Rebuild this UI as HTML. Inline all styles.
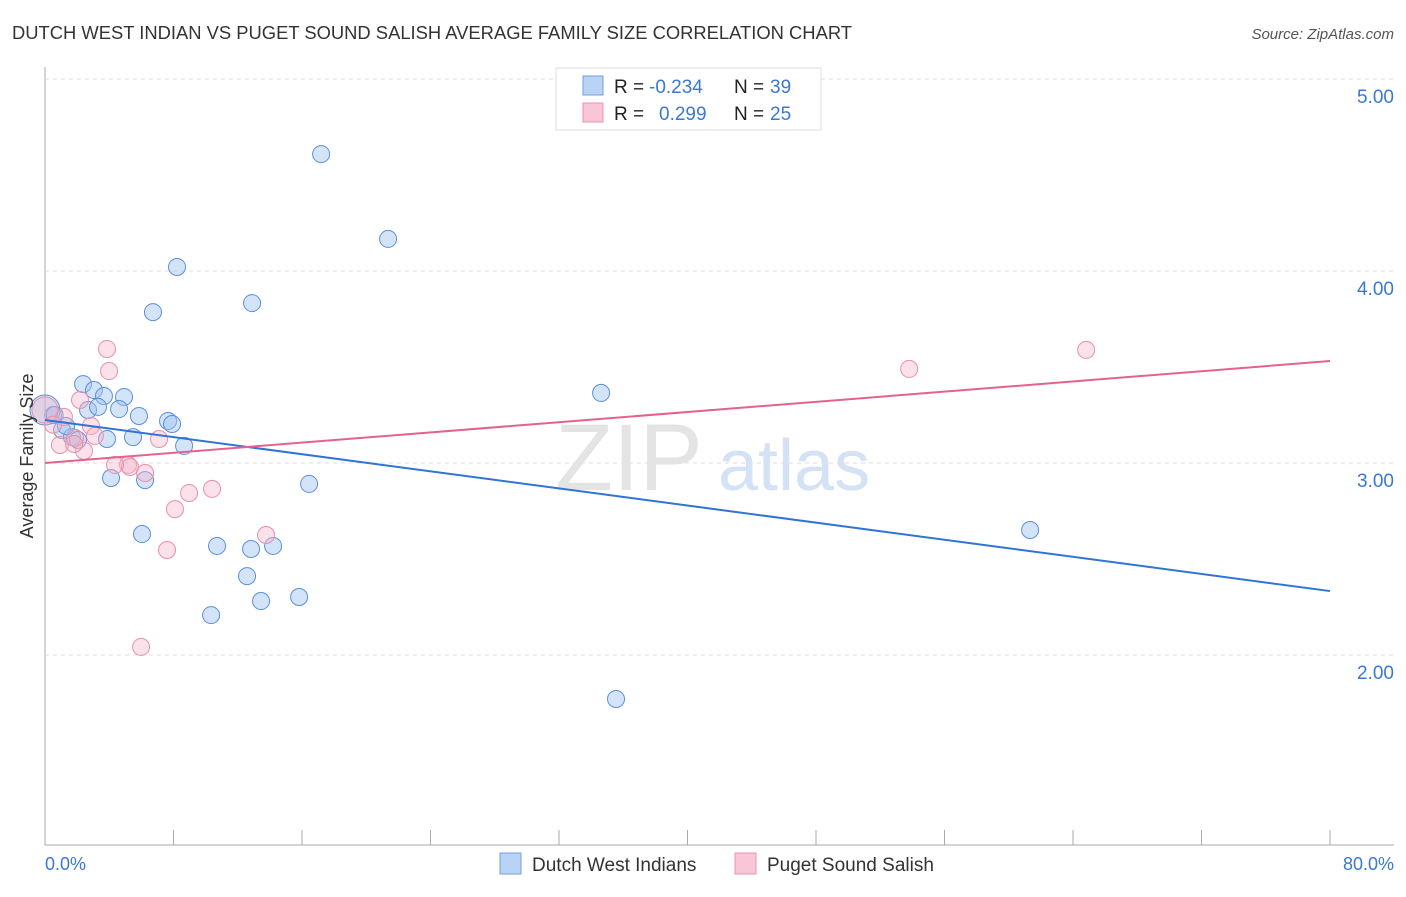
<!DOCTYPE html>
<html><head><meta charset="utf-8"><style>
body{margin:0;background:#fff;font-family:"Liberation Sans",sans-serif;}
svg text{font-family:"Liberation Sans",sans-serif;}
</style></head><body>
<svg id="chart" width="1406" height="892">
<text x="12" y="39" font-size="18" fill="#333" textLength="840" lengthAdjust="spacingAndGlyphs">DUTCH WEST INDIAN VS PUGET SOUND SALISH AVERAGE FAMILY SIZE CORRELATION CHART</text>
<text x="1394" y="39" font-size="15" fill="#555" text-anchor="end" font-style="italic">Source: ZipAtlas.com</text>
<g id="grid"></g>
<text x="555" y="490" font-size="95" fill="#e4e4e4" font-family="Liberation Serif">ZIP</text>
<text x="718" y="490" font-size="72" fill="#d3e2f5">atlas</text>
<g id="pts"></g>
<g id="lines"></g>
<text x="33" y="456" font-size="18" fill="#333" text-anchor="middle" transform="rotate(-90 33 456)">Average Family Size</text>
<text x="45" y="870" font-size="18" fill="#3a78d4">0.0%</text>
<text x="1394" y="870" font-size="18" fill="#3a78d4" text-anchor="end">80.0%</text>
<g>
<rect x="556" y="68" width="265" height="62" fill="#fff" stroke="#ddd"/>
<rect x="583" y="76" width="20" height="19" fill="#b9d3f5" stroke="#6e9fe0"/>
<rect x="583" y="103" width="20" height="19" fill="#f8c6d6" stroke="#eb94b0"/>
<text x="614" y="93" font-size="19" fill="#222">R =</text><text x="649" y="93" font-size="19" fill="#3a78d4">-0.234</text>
<text x="734" y="93" font-size="19" fill="#222">N =</text><text x="770" y="93" font-size="19" fill="#3a78d4">39</text>
<text x="614" y="120" font-size="19" fill="#222">R =</text><text x="659" y="120" font-size="19" fill="#3a78d4">0.299</text>
<text x="734" y="120" font-size="19" fill="#222">N =</text><text x="770" y="120" font-size="19" fill="#3a78d4">25</text>
</g>
<g>
<rect x="500" y="853" width="21" height="21" fill="#b9d3f5" stroke="#6e9fe0"/>
<text x="532" y="871" font-size="19" fill="#333">Dutch West Indians</text>
<rect x="735" y="853" width="21" height="21" fill="#f8c6d6" stroke="#eb94b0"/>
<text x="767" y="871" font-size="19" fill="#333">Puget Sound Salish</text>
</g>
</svg>
<script>
const yTicks=[2,3,4,5];
const yTickLabels=["2.00","3.00","4.00","5.00"];
const blueX=[2.37,3.05,3.67,4.92,2.68,3.30,4.61,5.85,7.66,7.91,3.86,5.48,8.66,4.11,6.23,16.44,6.04,10.71,12.83,14.20,12.58,13.45,15.82,10.34,17.19,21.36,8.22,12.89,6.72,34.62,61.33,35.55,0.50,1.06,1.68,2.05,1.31,0.0,0.6];
const blueY=[3.411,3.380,3.349,3.344,3.276,3.292,3.281,3.245,3.219,3.203,3.125,3.135,3.089,2.922,2.911,2.891,2.630,2.568,2.552,2.568,2.411,2.281,2.302,2.208,4.609,4.167,4.021,3.833,3.786,3.365,2.651,1.771,3.25,3.172,3.135,3.12,3.193,3.276,3.25];
const pinkX=[3.86,3.99,2.18,2.86,3.11,0.93,1.87,2.43,7.10,5.17,5.29,6.23,4.36,8.97,10.40,8.09,7.60,13.76,5.98,53.80,64.82,1.18,1.81,0.0,0.5];
const pinkY=[3.594,3.479,3.328,3.193,3.141,3.094,3.13,3.063,3.125,2.99,2.979,2.948,2.99,2.844,2.865,2.76,2.547,2.625,2.042,3.49,3.589,3.24,3.099,3.276,3.2];
const blueTrend=[3.224,2.333];
const pinkTrend=[3.0,3.531];
const xr=[0,80];
const NS='http://www.w3.org/2000/svg';
const X=v=>45+(v-xr[0])/(xr[1]-xr[0])*1285;
const Y=v=>79+(5-v)*192;
function mk(t,a,p){const e=document.createElementNS(NS,t);for(const k in a)e.setAttribute(k,a[k]);p.appendChild(e);return e;}
const grid=document.getElementById('grid');
const ax=mk('line',{x1:45,y1:67,x2:45,y2:845,stroke:'#aaa'},grid);


const bx=mk('line',{x1:45,y1:845,x2:1394,y2:845,stroke:'#aaa'},grid);


yTicks.forEach((t,i)=>{
 const g=mk('line',{x1:45,y1:Y(t),x2:1394,y2:Y(t),stroke:'#ddd','stroke-dasharray':'4,4'},grid);
 
 
 const l=mk('text',{x:1394,y:Y(t)+24,'font-size':19,fill:'#3a78d4','text-anchor':'end'},grid);
 l.textContent=yTickLabels[i];
 
 
});
for(let i=0;i<=10;i++){
 const t=mk('line',{x1:X(i*8),y1:830,x2:X(i*8),y2:845,stroke:'#aaa'},grid);
 
 
}
const pts=document.getElementById('pts');
blueX.forEach((x,i)=>{
 const c=mk('circle',{cx:X(x),cy:Y(blueY[i]),r:(i===37?15:8.5),fill:'rgba(160,196,240,0.45)',stroke:'#5b8fd9','stroke-width':1},pts);
 
 
});
pinkX.forEach((x,i)=>{
 const c=mk('circle',{cx:X(x),cy:Y(pinkY[i]),r:(i===23?13:8.5),fill:'rgba(245,180,200,0.4)',stroke:'#e890aa','stroke-width':1},pts);
 
 
});
const lines=document.getElementById('lines');
const bl=mk('line',{x1:X(0),y1:Y(blueTrend[0]),x2:X(80),y2:Y(blueTrend[1]),stroke:'#2f74d6','stroke-width':2},lines);


const pl=mk('line',{x1:X(0),y1:Y(pinkTrend[0]),x2:X(80),y2:Y(pinkTrend[1]),stroke:'#e4628f','stroke-width':2},lines);


</script>
</body></html>
